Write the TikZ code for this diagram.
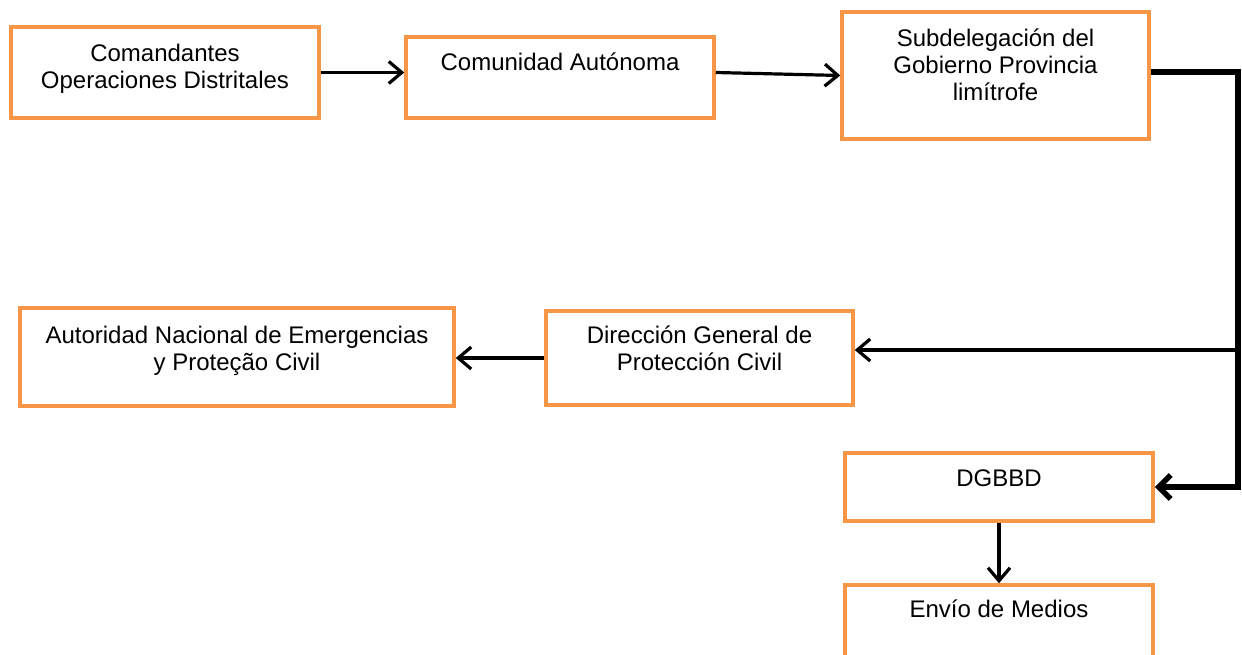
\documentclass[tikz,border=0pt]{standalone}
\usepackage{fontspec}
\setmainfont{Liberation Sans}
\usetikzlibrary{arrows.meta}
\definecolor{boxorange}{RGB}{247,150,70}
\tikzset{
  orgbox/.style={draw=boxorange, line width=3.5pt, fill=white, align=center,
    inner sep=0pt, font=\fontsize{24}{27}\selectfont},
  flowline/.style={line width=3.2pt, -{Straight Barb[length=13pt,width=22pt]}},
  flowthick/.style={line width=5.5pt, -{Straight Barb[length=12pt,width=24pt]}},
}
\begin{document}
\begin{tikzpicture}[x=1pt,y=-1pt]
      \useasboundingbox (0,0) rectangle (1242,655);
      % upper row
      \node (comandantes) [orgbox, minimum width=308pt, minimum height=91pt,
      text depth=12.5pt] at (165,72.5) {Comandantes\\Operaciones Distritales};
      \node (comunidad) [orgbox, minimum width=308pt, minimum height=81pt,
      text height=17pt, text depth=31pt] at (560,77.5) {Comunidad Autónoma};
      \node (subdelegacion) [orgbox, minimum width=307pt, minimum height=127pt,
      text depth=22pt] at (995.5,75.5) {Subdelegación del\\Gobierno
      Provincia\\limítrofe};

      % middle row
      \node (autoridad) [orgbox, minimum width=434pt, minimum height=98pt,
      text depth=17pt] at (237,357) {Autoridad Nacional de Emergencias\\y
      Proteção Civil};
      \node (direccion) [orgbox, minimum width=307pt, minimum height=94pt,
      text depth=19pt] at (699.5,358) {Dirección General de\\Protección
      Civil};

      % lower column
      \node (dgbbd) [orgbox, minimum width=308pt, minimum height=68pt,
      text height=17pt, text depth=18pt] at (999,487) {DGBBD};
      \node (envio) [orgbox, minimum width=308pt, minimum height=78pt,
      text height=17pt, text depth=30pt] at (999,624) {Envío de Medios};

      \coordinate (turn) at (1238,72); \coordinate (branch) at (1238,350);

      \draw[flowline] (comandantes.east) -- (comandantes.east -|
      comunidad.west);
      \draw[flowline] (comunidad.east |- comandantes.east) --
      (subdelegacion.west);
      \draw[flowthick] (subdelegacion.east |- turn) -- (turn) -- (turn
      |- dgbbd.east) -- (dgbbd.east);
      \draw[flowline] (branch) -- (branch -| direccion.east);
      \draw[flowline] (direccion.west) -- (direccion.west -|
      autoridad.east);
      \draw[flowline] (dgbbd.south) -- (envio.north);
    \end{tikzpicture}
\end{document}
